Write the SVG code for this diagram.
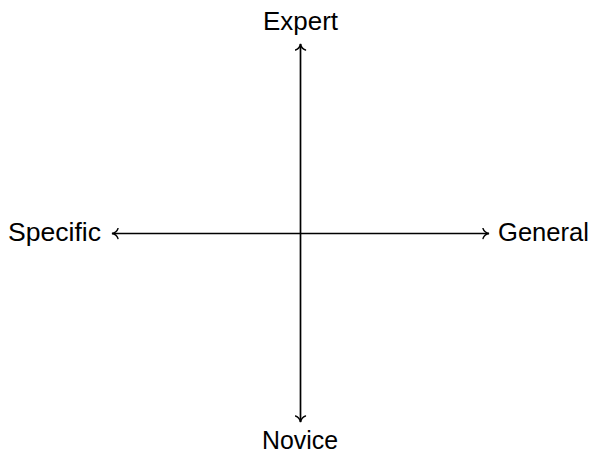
<svg xmlns="http://www.w3.org/2000/svg" width="594" height="456" viewBox="0 0 594 456">
<style>
.lbl{font-family:"Liberation Sans","DejaVu Sans",sans-serif;font-size:25px;fill:#000}
.ax{stroke:#000;stroke-width:1.7;fill:none}
</style>
<defs>
<marker id="tip" viewBox="-8 -6 10 12" refX="0" refY="0" markerWidth="10" markerHeight="12" markerUnits="userSpaceOnUse" orient="auto-start-reverse">
<path d="M-6,-5 C-5,-2 -2,-0.4 0,0 C-2,0.4 -5,2 -6,5" stroke="#000" stroke-width="1.4" fill="none" stroke-linecap="round"/>
</marker>
</defs>
<g id="connectors">
<line class="ax" x1="300.5" y1="44" x2="300.5" y2="422" marker-start="url(#tip)" marker-end="url(#tip)"/>
<line class="ax" x1="112" y1="233.5" x2="489" y2="233.5" marker-start="url(#tip)" marker-end="url(#tip)"/>
</g>
<g id="expert"><text class="lbl" x="263" y="30" textLength="75" lengthAdjust="spacingAndGlyphs">Expert</text></g>
<g id="novice"><text class="lbl" x="262" y="449" textLength="76" lengthAdjust="spacingAndGlyphs">Novice</text></g>
<g id="specific"><text class="lbl" x="8" y="241" textLength="93" lengthAdjust="spacingAndGlyphs">Specific</text></g>
<g id="general"><text class="lbl" x="498" y="241" textLength="91" lengthAdjust="spacingAndGlyphs">General</text></g>
</svg>
